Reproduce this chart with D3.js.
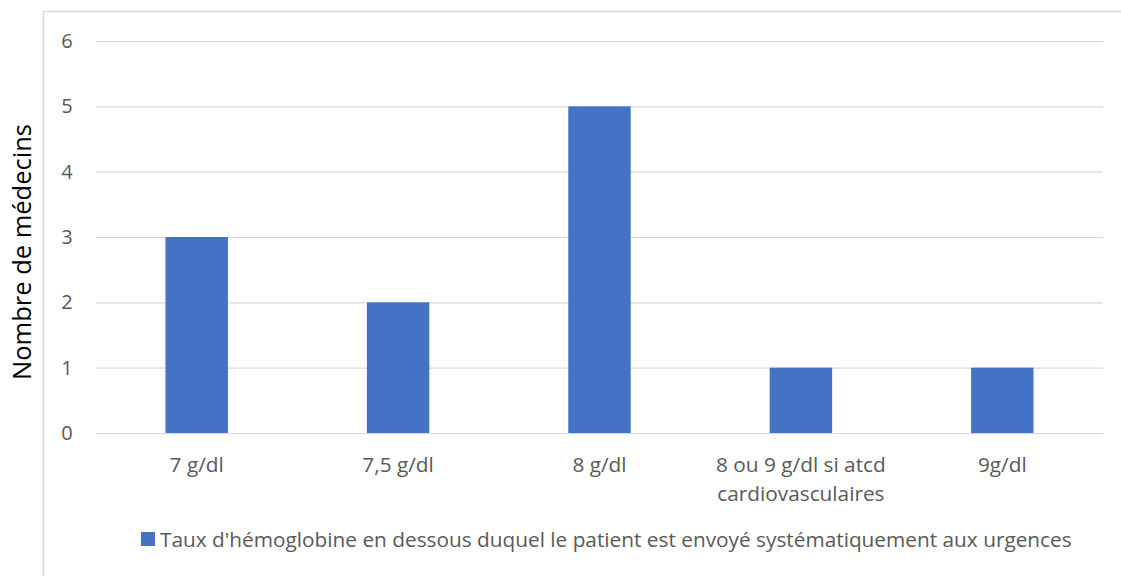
<!DOCTYPE html>
<html>
<head>
<meta charset="utf-8">
<script src="https://cdn.jsdelivr.net/npm/d3@7"></script>
<style>
  body { margin: 0; background: #fff; }
  text { font-family: "Open Sans", "Liberation Sans", sans-serif; fill: #595959; }
</style>
</head>
<body>
<svg id="viz-svg" width="1121" height="576"></svg>
<script>
var categories = [["7 g/dl"], ["7,5 g/dl"], ["8 g/dl"], ["8 ou 9 g/dl si atcd", "cardiovasculaires"], ["9g/dl"]]
  , values = [3, 2, 5, 1, 1]
  , yTicks = [0, 1, 2, 3, 4, 5, 6]
  , seriesName = "Taux d'hémoglobine en dessous duquel le patient est envoyé systématiquement aux urgences"
  , yTitle = "Nombre de médecins";

var svg = d3.select("#viz-svg")
  , margin = {left: 96, right: 18, top: 41, bottom: 143}
  , width = 1121 - margin.left - margin.right
  , height = 576 - margin.top - margin.bottom;

// chart area border, runs past the viewport like the original crop
svg.append("rect")
  .attr("x", 43.5).attr("y", 11.5)
  .attr("width", 1200).attr("height", 700)
  .attr("fill", "none").attr("stroke", "#d9d9d9").attr("stroke-width", 1.5);

var x = d3.scaleBand()
  .domain(d3.range(categories.length))
  .range([margin.left, margin.left + width])
  .paddingInner(0.69).paddingOuter(0.345);

var y = d3.scaleLinear().domain([0, 6]).range([margin.top + height, margin.top]);

// gridlines
svg.append("g").selectAll("line")
  .data(yTicks)
  .enter().append("line")
  .attr("x1", margin.left).attr("x2", margin.left + width)
  .attr("y1", function(d){ return y(d) + 0.5; })
  .attr("y2", function(d){ return y(d) + 0.5; })
  .attr("stroke", "#d9d9d9").attr("stroke-width", 1.2);

// y tick labels
svg.append("g").selectAll("text")
  .data(yTicks)
  .enter().append("text")
  .attr("x", 67).attr("y", function(d){ return y(d); })
  .attr("dy", "0.35em")
  .attr("text-anchor", "middle")
  .style("font-size", "20px")
  .text(function(d){ return d; });

// bars
svg.append("g").selectAll("rect")
  .data(values)
  .enter().append("rect")
  .attr("x", function(d, i){ return x(i); })
  .attr("width", x.bandwidth())
  .attr("y", function(d){ return y(d); })
  .attr("height", function(d){ return y(0) - y(d); })
  .attr("fill", "#4472c4");

// x labels
var xl = svg.append("g").selectAll("text")
  .data(categories)
  .enter().append("text")
  .attr("x", function(d, i){ return x(i) + x.bandwidth() / 2; })
  .attr("y", 472)
  .attr("text-anchor", "middle")
  .style("font-size", "20.8px");
xl.selectAll("tspan")
  .data(function(d){ return d; })
  .enter().append("tspan")
  .attr("x", function(){ return d3.select(this.parentNode).attr("x"); })
  .attr("dy", function(d, i){ return i ? 29 : 0; })
  .text(function(d){ return d; });

// y axis title
svg.append("text")
  .attr("transform", "translate(31," + 252 + ") rotate(-90)")
  .attr("text-anchor", "middle")
  .style("font-size", "25.5px")
  .style("fill", "#000")
  .text(yTitle);

// legend
var legend = svg.append("g").attr("id", "legend-container");
legend.append("rect")
  .attr("x", 141).attr("y", 532).attr("width", 14).attr("height", 14)
  .attr("fill", "#4472c4");
legend.append("text")
  .attr("x", 160).attr("y", 547)
  .style("font-size", "20.8px")
  .text(seriesName);
</script>
</body>
</html>
